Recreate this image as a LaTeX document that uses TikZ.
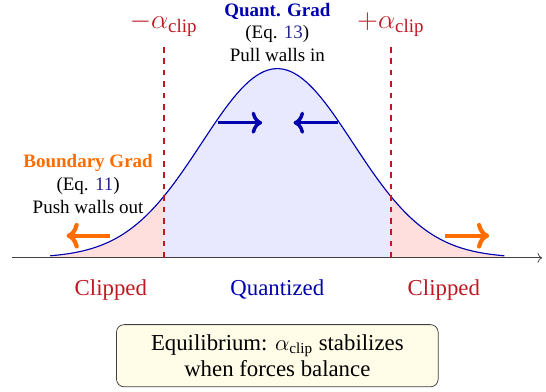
\documentclass[tikz,border=0pt]{standalone}
\usepackage{fontspec}
\setmainfont{Liberation Serif}
\usetikzlibrary{arrows.meta, positioning}
\definecolor{clipred}{RGB}{190,25,35}
\definecolor{quantblue}{RGB}{0,0,175}
\definecolor{gradorange}{RGB}{255,108,0}
\definecolor{eqblue}{RGB}{35,35,145}
\definecolor{notefill}{RGB}{255,252,232}

\begin{document}
\begin{tikzpicture}[
  curve/.style={quantblue, semithick},
  wall/.style={clipred, dashed, thick},
  pull/.style={->, quantblue, line width=1.8pt},
  push/.style={->, gradorange, line width=2.2pt},
  region/.style={font=\large},
  gradtext/.style={align=center, font=\normalsize, inner sep=1pt},
  note/.style={rectangle, draw=black!75, rounded corners=4pt, fill=notefill,
    align=center, font=\large, minimum width=5.95cm, minimum height=1.15cm}
]
  \useasboundingbox (-5.13,-2.48) rectangle (4.97,4.77);

  % shaded regions under the density
  \fill[red!13] (-4.2,0) -- plot[domain=-3:-1.5, samples=40]
    ({1.4*\x},{3.5*exp(-\x*\x/2)}) -- (-2.1,0) -- cycle;
  \fill[blue!9] (-2.1,0) -- plot[domain=-1.5:1.5, samples=60]
    ({1.4*\x},{3.5*exp(-\x*\x/2)}) -- (2.1,0) -- cycle;
  \fill[red!13] (2.1,0) -- plot[domain=1.5:3, samples=40]
    ({1.4*\x},{3.5*exp(-\x*\x/2)}) -- (4.2,0) -- cycle;

  % axis and curve
  \coordinate (axl) at (-4.9,0);
  \coordinate (axr) at (4.9,0);
  \draw[->, black!75] (axl) -- (axr);
  \draw[curve] plot[domain=-3:3, samples=120] ({1.4*\x},{3.5*exp(-\x*\x/2)});

  % clipping walls
  \coordinate (wl0) at (-2.1,0);
  \coordinate (wl1) at (-2.1,3.9);
  \coordinate (wr0) at (2.1,0);
  \coordinate (wr1) at (2.1,3.9);
  \draw[wall] (wl0) -- (wl1);
  \draw[wall] (wr0) -- (wr1);
  \node[text=clipred, font=\Large] (aneg) at (-2.1,4.31) {$-\alpha_{\mathrm{clip}}$};
  \node[text=clipred, font=\Large] (apos) at (2.1,4.31) {$+\alpha_{\mathrm{clip}}$};

  % gradient labels
  \node[gradtext] (quant) at (0,4.17)
    {\textcolor{quantblue}{\textbf{Quant. Grad}}\\
     (Eq. \textcolor{eqblue}{13})\\ Pull walls in};
  \node[gradtext] (bound) at (-3.5,1.37)
    {\textcolor{gradorange}{\textbf{Boundary Grad}}\\
     (Eq. \textcolor{eqblue}{11})\\ Push walls out};

  % forces
  \coordinate (pl0) at (-1.1,2.5);
  \coordinate (pl1) at (-0.28,2.5);
  \coordinate (pr0) at (1.12,2.5);
  \coordinate (pr1) at (0.3,2.5);
  \draw[pull] (pl0) -- (pl1);
  \draw[pull] (pr0) -- (pr1);
  \coordinate (ol0) at (-3.1,0.41);
  \coordinate (ol1) at (-3.9,0.41);
  \coordinate (or0) at (3.1,0.41);
  \coordinate (or1) at (3.92,0.41);
  \draw[push] (ol0) -- (ol1);
  \draw[push] (or0) -- (or1);

  % region names
  \node[region, text=clipred] (clipl) at (-3.08,-0.59) {Clipped};
  \node[region, text=quantblue] (quantz) at (0,-0.59) {Quantized};
  \node[region, text=clipred] (clipr) at (3.08,-0.59) {Clipped};

  \node[note] (equil) at (0,-1.81)
    {Equilibrium: $\alpha_{\mathrm{clip}}$ stabilizes\\ when forces balance};
\end{tikzpicture}
\end{document}
